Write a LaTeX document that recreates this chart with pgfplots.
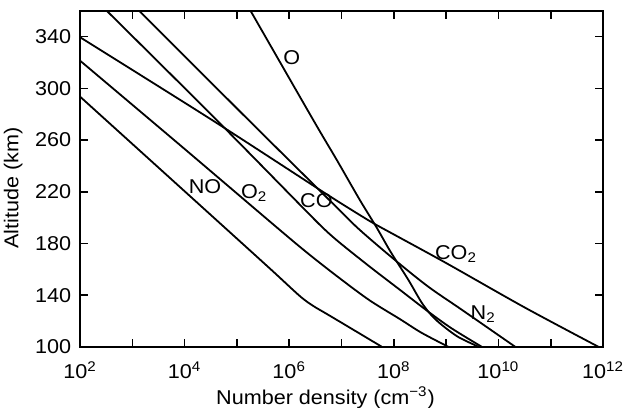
\documentclass[border=0pt]{standalone}
\usepackage{fontspec}
\setmainfont{Liberation Sans}[FakeStretch=1.08]
\usepackage{pgfplots}
\pgfplotsset{compat=1.18}
\begin{document}
\begin{tikzpicture}[font=\fontsize{10}{12}\selectfont]
\begin{axis}[
  at={(0,0)}, anchor=south west,
  scale only axis, width=261.5pt, height=168.15pt,
  xmin=2, xmax=12, ymin=100, ymax=360,
  xtick={2,3,...,12},
  xticklabels={10\textsuperscript{2},,10\textsuperscript{4},,10\textsuperscript{6},,10\textsuperscript{8},,10\textsuperscript{10},,10\textsuperscript{12}},
  ytick={100,140,...,340},
  tick align=inside, major tick length=4pt,
  axis line style={line width=1pt},
  every tick/.style={black, line width=0.8pt},
  xticklabel style={inner sep=0pt, anchor=north, yshift=-7pt},
  yticklabel style={inner sep=0pt, anchor=east, xshift=-4.2pt},
  /pgf/number format/assume math mode=true,
  clip=false,
  crv/.style={black, solid, no markers, line width=0.9pt, line join=round, smooth},
]
% CO2
\addplot[crv] coordinates {(2,339.5) (4.52,275.6) (6.59,221.4) (7.2,205.8) (7.61,195.7) (8.02,186.6) (9.01,164.7) (10.51,130.4) (11.92,100)};
% N2
\addplot[crv] coordinates {(3.13,360) (5.22,275.6) (6.9,208.3) (7.35,190.5) (8.02,167.3) (8.66,146.6) (9.30,128.8) (10.32,100.2)};
% CO
\addplot[crv] coordinates {(2.51,360) (4.61,275.6) (6.3,206.1) (6.68,190.8) (6.97,180.5) (7.54,162.1) (8.12,144.1) (8.66,127.3) (9.11,114.3) (9.68,100.2)};
% O2
\addplot[crv] coordinates {(2,321.4) (3.91,256.2) (5.82,190.5) (6.4,171) (6.97,153) (7.54,136) (8.12,121.5) (8.53,111) (9.04,100.2)};
% NO
\addplot[crv] coordinates {(2,293.6) (4.17,214.2) (5.6,161.8) (6.2,139.5) (6.45,132) (6.7,126) (6.95,120) (7.77,100.2)};
% O
\addplot[crv] coordinates {(5.26,360) (6.46,275.5) (6.91,244.6) (7.35,213.7) (7.67,192.5) (7.91,175.5) (8.02,168.3) (8.28,151.8) (8.53,134.5) (8.72,124.5) (8.92,117) (9.23,107.8) (9.62,100.2)};

\node at (axis cs:6.05,324) {O};
\node at (axis cs:4.39,223.7) {NO};
\node at (axis cs:5.33,219) {O\textsubscript{2}};
\node at (axis cs:6.52,212.9) {CO};
\node at (axis cs:9.19,172) {CO\textsubscript{2}};
\node at (axis cs:9.71,125.5) {N\textsubscript{2}};

\node[rotate=90, anchor=south, inner sep=0pt] at ([shift={(-28.5pt,-4.5pt)}]rel axis cs:0,0.5) {Altitude (km)};
\node[anchor=north, inner sep=0pt] at ([shift={(122.75pt,-19.8pt)}]rel axis cs:0,0) {Number density (cm\textsuperscript{−3})};
\end{axis}
\pgfresetboundingbox
\path[use as bounding box] (-40pt,-30pt) rectangle (272.5pt,173.5pt);
\end{tikzpicture}
\end{document}
